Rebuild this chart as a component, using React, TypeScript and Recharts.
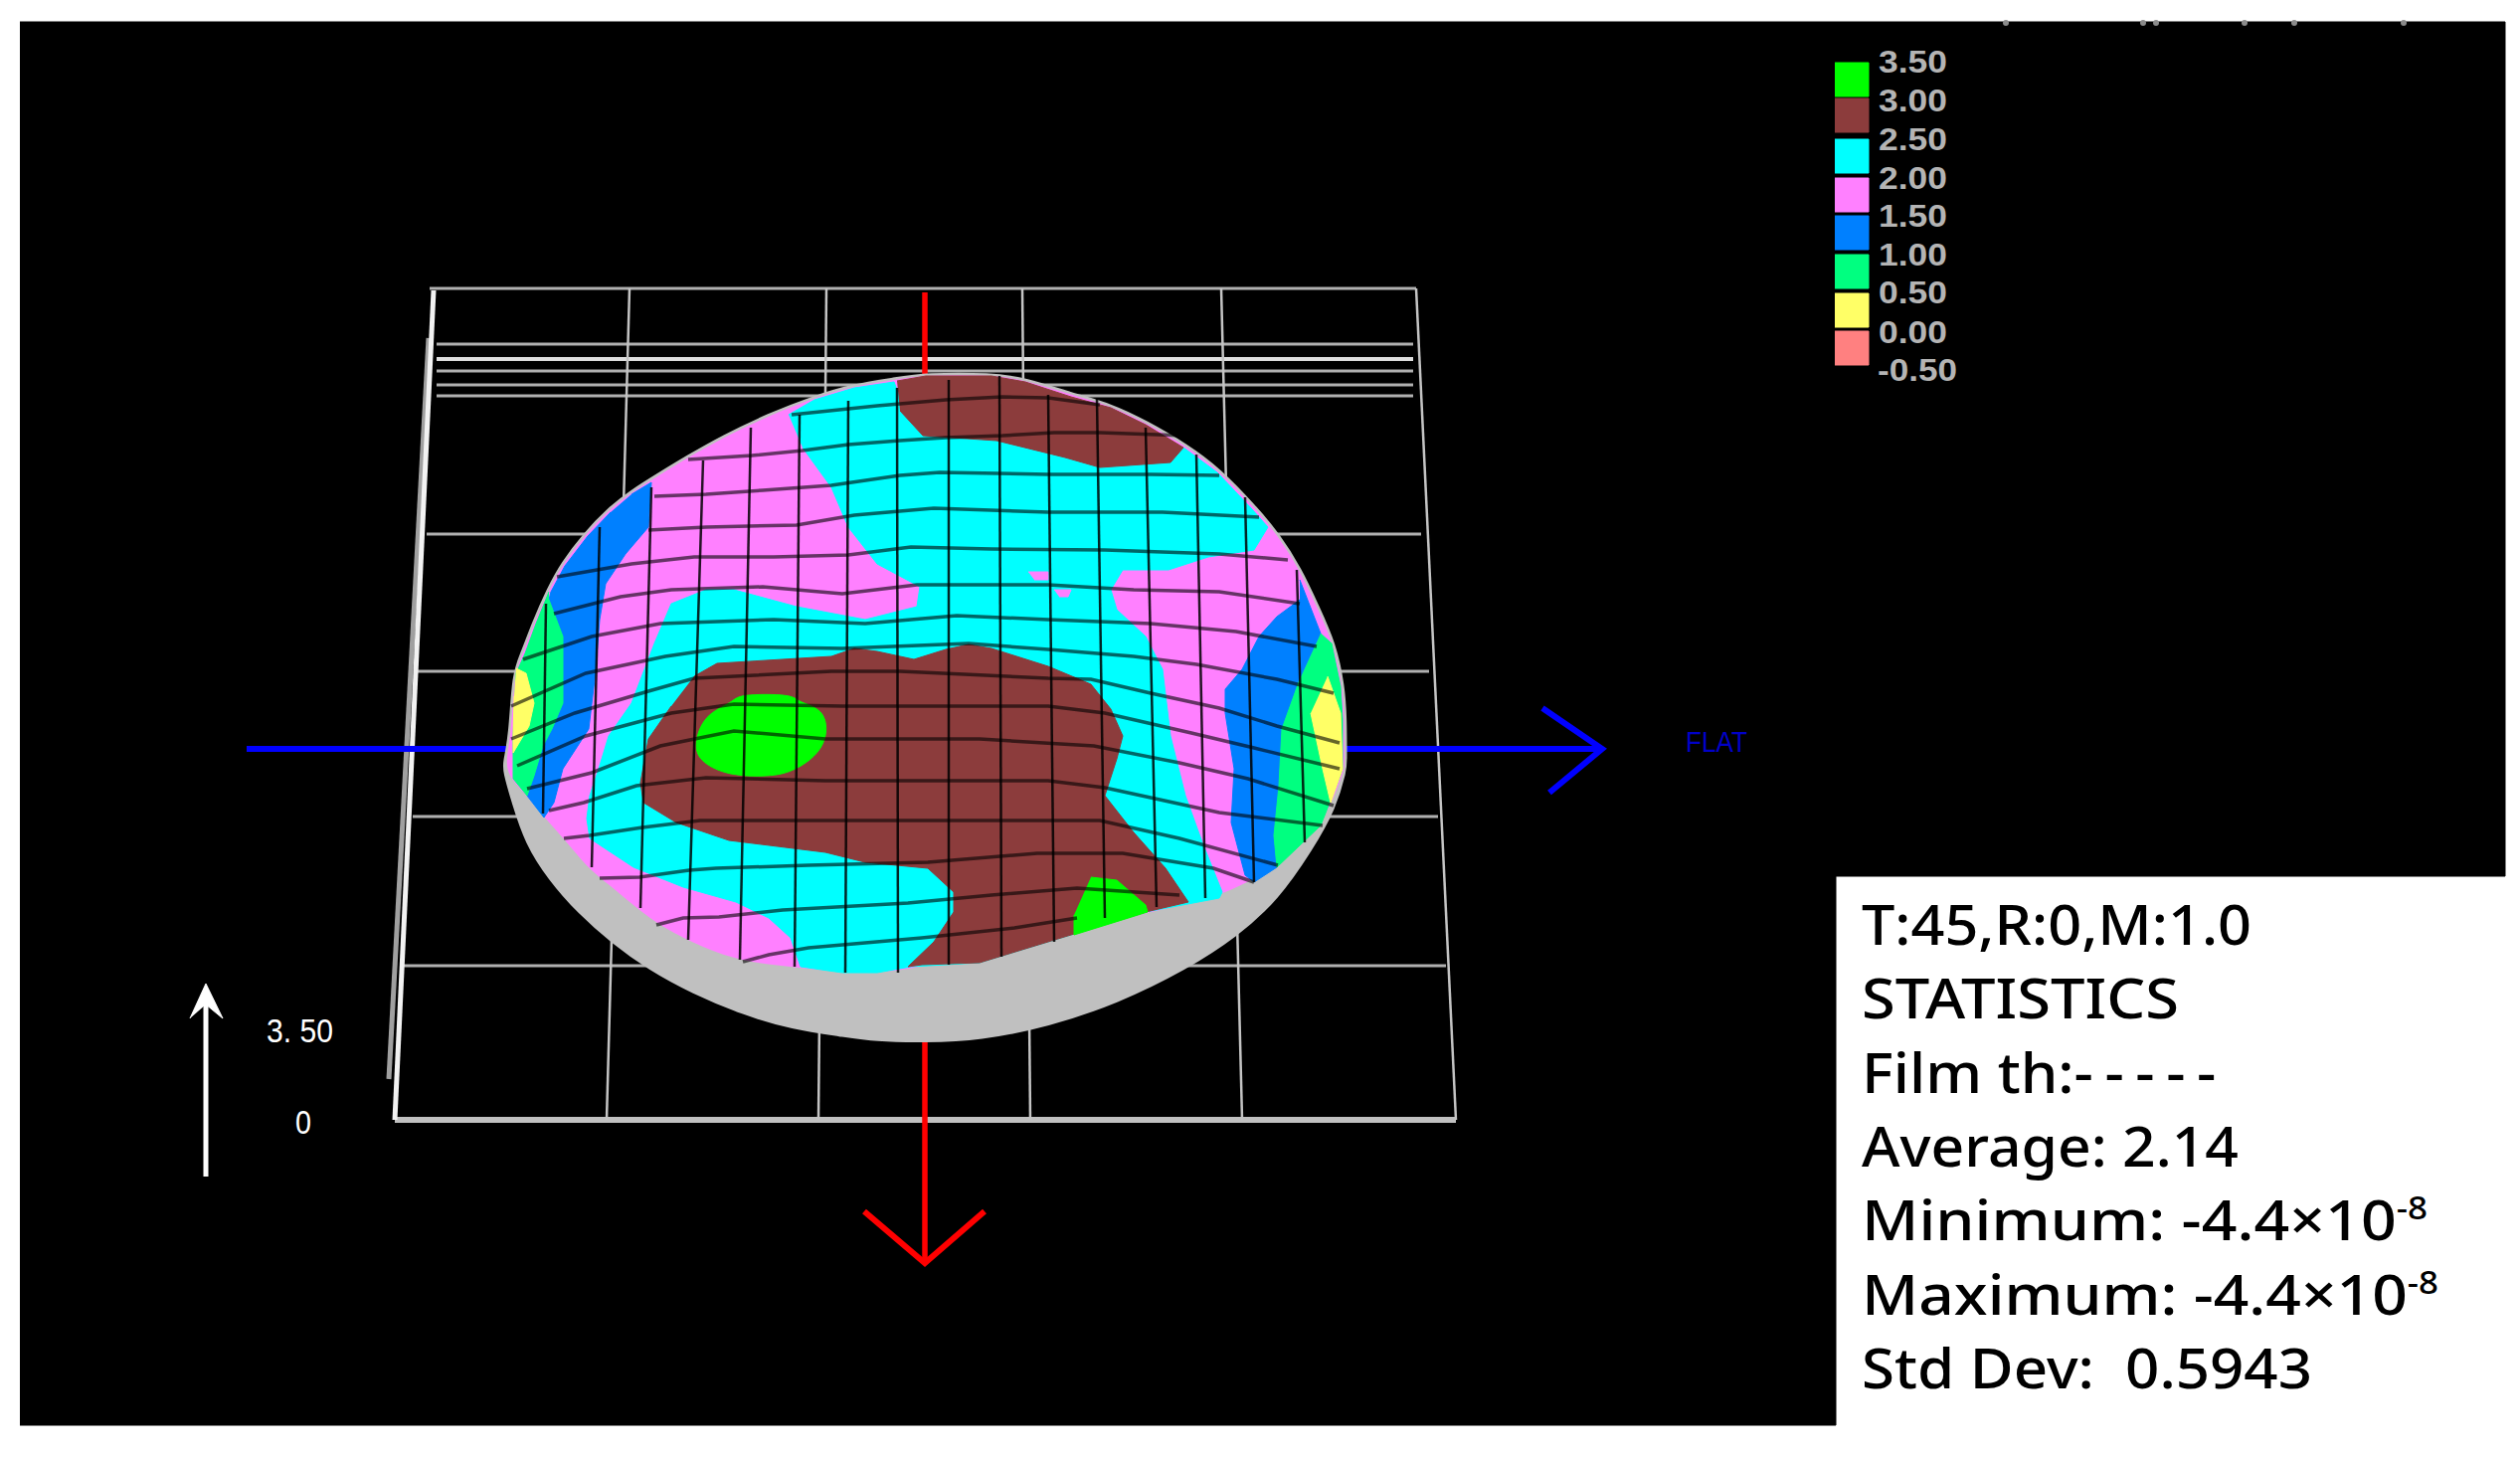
import React from 'react'
import { ScatterChart, Scatter, XAxis, YAxis } from 'recharts'

type Pt = [number, number]

const WIDTH = 2534
const HEIGHT = 1465

// everything in its own pixel units
const panel: Pt[] = [[20, 22], [2519, 22], [2519, 881], [1846, 881], [1846, 1433], [20, 1433]]
const topSpecks: Pt[] = [[2017, 23], [2155, 23], [2168, 23], [2257, 23], [2307, 23], [2417, 23]]

const floorRows: Pt[][] = [
  [[432, 290], [1424, 290]],
  [[439, 346], [1421, 346]],
  [[439, 373], [1421, 373]],
  [[439, 387], [1421, 387]],
  [[439, 398], [1421, 398]],
  [[429, 537], [1429, 537]],
  [[420, 675], [1437, 675]],
  [[415, 821], [1446, 821]],
  [[405, 971], [1454, 971]],
]
const floorBrightRow: Pt[] = [[439, 361], [1421, 361]]
const floorFront: Pt[] = [[397, 1126], [1464, 1126]]
const floorCols: Pt[][] = [
  [[633, 290], [610, 1126]],
  [[831, 290], [823, 1126]],
  [[1028, 290], [1036, 1126]],
  [[1228, 290], [1249, 1126]],
  [[1424, 290], [1464, 1126]],
]
const floorEdgeFront: Pt[] = [[436, 292], [397, 1126]]
const floorEdgeBack: Pt[] = [[431, 340], [391, 1085]]

const redAxis: Pt[] = [[930, 294], [930, 1270]]
const redHead: Pt[] = [[869, 1218], [930, 1270], [990, 1218]]
const blueAxis: Pt[] = [[248, 753], [1611, 753]]
const blueHead: Pt[] = [[1551, 712], [1611, 753], [1558, 797]]
const whiteAxis: Pt[] = [[207, 1183], [207, 1000]]
const whiteHead: Pt[] = [[191, 1024], [207, 989], [224, 1024], [207, 1010]]

const rimTop: Pt[] = [
  [508, 767], [514, 740], [517, 677], [526, 657], [537, 627], [552, 593], [566, 567], [589, 537], [612, 513],
  [635, 495], [664, 477], [692, 460], [727, 440], [773, 418], [819, 400], [859, 388], [899, 382], [931, 377],
  [997, 377], [1031, 382], [1077, 397], [1117, 408], [1152, 425], [1192, 448], [1226, 473], [1261, 510],
  [1284, 537], [1307, 573], [1324, 610], [1341, 647], [1350, 690], [1352, 723], [1352, 767],
]
const domeBottom: Pt[] = [
  [1352, 773], [1341, 813], [1318, 853], [1284, 903], [1243, 940], [1192, 973], [1123, 1007], [1054, 1030], [985, 1044],
  [930, 1046], [880, 1045], [847, 1040], [797, 1033], [747, 1018], [697, 997], [653, 973], [617, 947], [583, 917],
  [553, 883], [530, 847], [517, 807], [508, 775],
]
const mapBottom: Pt[] = [
  [1352, 773], [1347, 787], [1330, 830], [1284, 872], [1226, 903], [1152, 917], [1077, 940], [985, 968],
  [927, 970], [907, 977], [847, 978], [797, 972], [747, 967], [707, 953], [667, 933], [640, 913], [613, 890],
  [590, 872], [567, 843], [547, 822], [530, 800], [513, 783],
]

const cyanMain: Pt[] = [
  [793, 417], [819, 402], [859, 390], [899, 384], [905, 400], [1000, 420], [1100, 450], [1190, 450], [1224, 475],
  [1259, 512], [1275, 530], [1261, 553], [1215, 560], [1175, 573],
  [1129, 573], [1117, 593], [1123, 613], [1152, 640], [1169, 673], [1177, 740], [1192, 800], [1209, 847],
  [1229, 897], [1226, 903], [1152, 917], [1077, 940], [985, 968], [916, 972], [882, 978], [847, 978], [805, 972],
  [795, 943], [773, 923], [740, 907], [687, 892], [637, 872], [593, 843], [590, 823], [593, 800], [602, 773],
  [612, 740], [635, 707], [658, 647], [675, 607], [710, 593], [738, 593], [801, 610], [870, 623], [922, 610],
  [925, 590], [882, 567], [853, 530], [836, 490], [807, 450],
]
const pinkSpotA: Pt[] = [[1034, 575], [1054, 575], [1054, 583], [1040, 583]]
const pinkSpotB: Pt[] = [[1060, 593], [1077, 593], [1074, 600], [1065, 600]]
const brownTop: Pt[] = [
  [902, 383], [931, 378], [997, 378], [1031, 384], [1077, 399], [1117, 410], [1152, 427], [1190, 450], [1177, 465],
  [1106, 470], [1071, 460], [1002, 443], [928, 438], [905, 413],
]
const brownMain: Pt[] = [
  [698, 680], [721, 667], [836, 660], [859, 652], [882, 655], [919, 663], [951, 653], [974, 648], [997, 652],
  [1054, 670], [1097, 688], [1117, 713], [1129, 740], [1123, 763], [1111, 800], [1140, 837], [1172, 873], [1195, 907],
  [1152, 917], [1077, 940], [985, 968], [927, 970], [913, 972], [939, 947], [959, 917], [959, 897], [933, 873],
  [870, 867], [830, 857], [733, 845], [680, 827], [647, 807], [644, 787], [652, 743], [675, 710],
]
const greenLarge: Pt[] = [
  [741, 698], [799, 698], [801, 706], [832, 713], [832, 752], [799, 776], [773, 781], [733, 780], [705, 767],
  [697, 750], [708, 718], [738, 706],
]
const greenSmall: Pt[] = [[1097, 882], [1123, 885], [1152, 910], [1154, 917], [1080, 940], [1080, 920]]
const blueLeft: Pt[] = [
  [635, 497], [655, 485], [652, 530], [629, 557], [609, 587], [603, 623], [600, 660], [598, 683], [592, 733],
  [566, 773], [557, 807], [547, 822], [530, 800], [537, 780], [546, 750], [555, 733], [566, 707],
  [566, 640], [552, 603], [554, 595], [568, 569], [591, 539], [614, 515],
]
const seaLeft: Pt[] = [
  [552, 595], [539, 627], [528, 657], [519, 677], [516, 740], [516, 783], [530, 800], [537, 780], [546, 750],
  [555, 733], [566, 707], [566, 640], [552, 603],
]
const yellowLeft: Pt[] = [[519, 672], [529, 677], [537, 707], [532, 730], [516, 757], [516, 740], [517, 700]]
const blueRight: Pt[] = [
  [1307, 583], [1328, 637], [1307, 683], [1289, 733], [1286, 790], [1281, 840], [1284, 872], [1261, 887], [1252, 880],
  [1238, 827], [1241, 773], [1232, 717], [1232, 693], [1249, 673], [1266, 640], [1284, 620], [1307, 603],
]
const seaRight: Pt[] = [
  [1328, 637], [1339, 647], [1348, 690], [1350, 723], [1350, 773], [1345, 787], [1328, 830], [1284, 872], [1281, 840],
  [1286, 790], [1289, 733], [1307, 683],
]
const yellowRight: Pt[] = [[1335, 680], [1348, 717], [1350, 773], [1338, 807], [1330, 773], [1318, 717]]

const meshRows: Pt[][] = [
  [[796, 417], [882, 408], [951, 402], [1008, 399], [1054, 400], [1106, 407]],
  [[692, 462], [756, 458], [807, 453], [853, 447], [905, 443], [951, 440], [1008, 438], [1060, 435], [1106, 435], [1192, 438]],
  [[658, 499], [710, 497], [767, 493], [836, 488], [905, 478], [945, 475], [1054, 477], [1157, 477], [1226, 478]],
  [[652, 533], [710, 530], [801, 528], [859, 518], [939, 511], [1054, 515], [1169, 515], [1266, 520]],
  [[560, 580], [635, 567], [698, 560], [778, 560], [853, 558], [916, 550], [997, 552], [1111, 553], [1226, 557], [1295, 563]],
  [[557, 617], [624, 600], [675, 593], [767, 590], [847, 597], [922, 588], [1054, 588], [1140, 593], [1226, 595], [1307, 607]],
  [[526, 663], [595, 640], [664, 627], [778, 623], [870, 627], [962, 619], [1054, 623], [1157, 627], [1243, 635], [1324, 650]],
  [[514, 710], [589, 677], [669, 660], [738, 650], [847, 652], [974, 647], [1054, 653], [1140, 660], [1203, 668], [1284, 683], [1341, 697]],
  [[514, 743], [578, 717], [652, 695], [698, 682], [836, 675], [905, 675], [1054, 682], [1097, 683], [1157, 697], [1226, 712], [1284, 730], [1347, 747]],
  [[520, 770], [589, 740], [675, 717], [738, 708], [847, 710], [1054, 710], [1111, 717], [1198, 737], [1261, 752], [1347, 773]],
  [[530, 793], [595, 777], [664, 750], [738, 735], [830, 743], [985, 743], [1100, 750], [1186, 767], [1255, 783], [1341, 810]],
  [[552, 815], [587, 807], [640, 790], [710, 782], [830, 785], [1054, 785], [1111, 792], [1226, 817], [1330, 830]],
  [[567, 843], [593, 840], [646, 832], [704, 825], [836, 825], [1106, 825], [1186, 843], [1285, 870]],
  [[603, 883], [643, 882], [693, 875], [720, 873], [813, 870], [933, 867], [1043, 858], [1129, 858], [1220, 873], [1261, 887]],
  [[660, 930], [687, 923], [723, 922], [787, 915], [913, 908], [997, 900], [1083, 893], [1186, 900]],
  [[747, 967], [773, 960], [813, 953], [927, 943], [1020, 933], [1083, 923]],
]
const meshCols: Pt[][] = [
  [[549, 607], [546, 818]],
  [[603, 530], [595, 872]],
  [[655, 490], [644, 913]],
  [[707, 463], [692, 945]],
  [[755, 430], [744, 965]],
  [[804, 417], [799, 972]],
  [[853, 403], [850, 978]],
  [[902, 390], [903, 978]],
  [[954, 382], [954, 970]],
  [[1005, 378], [1007, 962]],
  [[1054, 397], [1060, 947]],
  [[1103, 400], [1111, 923]],
  [[1152, 430], [1163, 912]],
  [[1203, 457], [1212, 903]],
  [[1252, 500], [1261, 887]],
  [[1304, 573], [1312, 847]],
]

const legendColors = ['#00ff00', '#8c3c3c', '#00ffff', '#ff80ff', '#0080ff', '#00ff80', '#ffff66', '#ff8080']
const legendTops = [63, 99, 140, 179, 217, 256, 295, 333]
const legendLabels = ['3.50', '3.00', '2.50', '2.00', '1.50', '1.00', '0.50', '0.00', '-0.50']
const legendBaselines = [73, 112, 151, 190, 228, 267, 305, 345, 383]

const statLines = [
  { text: 'T:45,R:0,M:1.0', width: 392 },
  { text: 'STATISTICS', width: 319 },
  { text: 'Film th:', dashes: '-----', width: 368 },
  { text: 'Average: 2.14', width: 379 },
  { text: 'Minimum: -4.4×10', sup: '-8', width: 569 },
  { text: 'Maximum: -4.4×10', sup: '-8', width: 580 },
  { text: 'Std Dev:  0.5943', width: 453 },
]
const statBaselines = [950, 1024, 1099, 1173, 1247, 1322, 1396]

const toData = (pts: Pt[]) => pts.map(([x, y]) => ({ x, y }))
const NoDot = () => null
const Speck = (props: any) => <circle cx={props.cx} cy={props.cy} r={3} fill="#8a8a8a" />

function fillShape(key: string, pts: Pt[], color: string, smooth = false, edge = 1) {
  return (
    <Scatter
      key={key}
      data={toData(pts)}
      shape={NoDot}
      line={{ fill: color, stroke: color, strokeWidth: edge }}
      lineJointType={smooth ? 'basisClosed' : 'linear'}
      isAnimationActive={false}
    />
  )
}

function strokeShape(key: string, pts: Pt[], color: string, width: number, opacity = 1) {
  return (
    <Scatter
      key={key}
      data={toData(pts)}
      shape={NoDot}
      line={{ fill: 'none', stroke: color, strokeWidth: width, strokeOpacity: opacity }}
      isAnimationActive={false}
    />
  )
}

const TextMark = (props: any) => {
  const { cx, cy, payload } = props
  const { label, sup, dashes, size, color, family, weight, width } = payload
  return (
    <text
      x={cx}
      y={cy}
      fontSize={size}
      fill={color}
      fontFamily={family}
      fontWeight={weight}
      textLength={width}
      lengthAdjust="spacingAndGlyphs"
      xmlSpace="preserve"
    >
      {label}
      {dashes && <tspan letterSpacing={11}>{dashes}</tspan>}
      {sup && <tspan fontSize={size * 0.56} dy={-size * 0.36}>{sup}</tspan>}
    </text>
  )
}

const statData = statLines.map((s, i) => ({
  x: 1872,
  y: statBaselines[i],
  label: s.text,
  sup: s.sup,
  dashes: s.dashes,
  width: s.width,
  size: 57,
  weight: 500,
  color: '#000000',
  family: '"Noto Sans", sans-serif',
}))
const legendData = legendLabels.map((label, i) => ({
  x: label.startsWith('-') ? 1888 : 1889,
  y: legendBaselines[i],
  label,
  width: label.startsWith('-') ? 80 : 69,
  size: 32,
  weight: 700,
  color: '#b4b4b4',
  family: '"Liberation Sans", sans-serif',
}))
const sideData = [
  { x: 268, y: 1048, label: '3. 50', width: 67, size: 34, color: '#ffffff', family: '"Liberation Sans", sans-serif' },
  { x: 297, y: 1140, label: '0', width: 16, size: 33, color: '#ffffff', family: '"Liberation Sans", sans-serif' },
  { x: 1695, y: 756, label: 'FLAT', width: 62, size: 30, color: '#0000c8', family: '"Liberation Sans", sans-serif' },
]

export default function App() {
  return (
    <div style={{ position: 'absolute', left: 0, top: 0, width: WIDTH, height: HEIGHT, background: '#fff' }}>
      <ScatterChart width={WIDTH} height={HEIGHT} margin={{ top: 0, right: 0, bottom: 0, left: 0 }}>
        <XAxis type="number" dataKey="x" domain={[0, WIDTH]} allowDataOverflow hide />
        <YAxis type="number" dataKey="y" domain={[0, HEIGHT]} allowDataOverflow reversed hide />

        {fillShape('panel', panel, '#000000')}
        <Scatter data={toData(topSpecks)} shape={Speck} isAnimationActive={false} />

        {floorRows.map((r, i) => strokeShape(`row${i}`, r, '#b0b0b0', 3))}
        {strokeShape('rowBright', floorBrightRow, '#dddddd', 4)}
        {strokeShape('front', floorFront, '#c0c0c0', 6)}
        {floorCols.map((c, i) => strokeShape(`col${i}`, c, '#c4c4c4', 2.5))}
        {strokeShape('edgeBack', floorEdgeBack, '#a0a0a0', 5)}
        {strokeShape('edgeFront', floorEdgeFront, '#f2f2f2', 5)}

        {strokeShape('red', redAxis, '#ff0000', 5.5)}
        {strokeShape('redHead', redHead, '#ff0000', 6)}
        {strokeShape('blue', blueAxis, '#0000ff', 6)}
        {strokeShape('blueHead', blueHead, '#0000ff', 6)}
        {strokeShape('white', whiteAxis, '#ffffff', 5)}
        {fillShape('whiteHead', whiteHead, '#ffffff')}

        {fillShape('dome', [...rimTop, ...domeBottom], '#c0c0c0', true, 5)}
        {fillShape('map', [...rimTop, ...mapBottom], '#ff80ff', true, 0)}
        {fillShape('blueLeft', blueLeft, '#0080ff')}
        {fillShape('seaLeft', seaLeft, '#00ff80')}
        {fillShape('yellowLeft', yellowLeft, '#ffff66')}
        {fillShape('blueRight', blueRight, '#0080ff')}
        {fillShape('seaRight', seaRight, '#00ff80')}
        {fillShape('yellowRight', yellowRight, '#ffff66')}
        {fillShape('cyan', cyanMain, '#00ffff')}
        {fillShape('spotA', pinkSpotA, '#ff80ff')}
        {fillShape('spotB', pinkSpotB, '#ff80ff')}
        {fillShape('brownTop', brownTop, '#8c3c3c')}
        {fillShape('brownMain', brownMain, '#8c3c3c')}
        {fillShape('greenLarge', greenLarge, '#00ff00', true)}
        {fillShape('greenSmall', greenSmall, '#00ff00')}

        {meshRows.map((r, i) => strokeShape(`mrow${i}`, r, '#000000', 3.5, 0.6))}
        {meshCols.map((c, i) => strokeShape(`mcol${i}`, c, '#000000', 2.5, 0.85))}

        {legendColors.map((color, i) =>
          fillShape(
            `swatch${i}`,
            [[1845, legendTops[i]], [1879, legendTops[i]], [1879, legendTops[i] + 34], [1845, legendTops[i] + 34]],
            color,
          ),
        )}
        <Scatter data={legendData} shape={TextMark} isAnimationActive={false} />
        <Scatter data={sideData} shape={TextMark} isAnimationActive={false} />
        <Scatter data={statData} shape={TextMark} isAnimationActive={false} />
      </ScatterChart>
    </div>
  )
}
